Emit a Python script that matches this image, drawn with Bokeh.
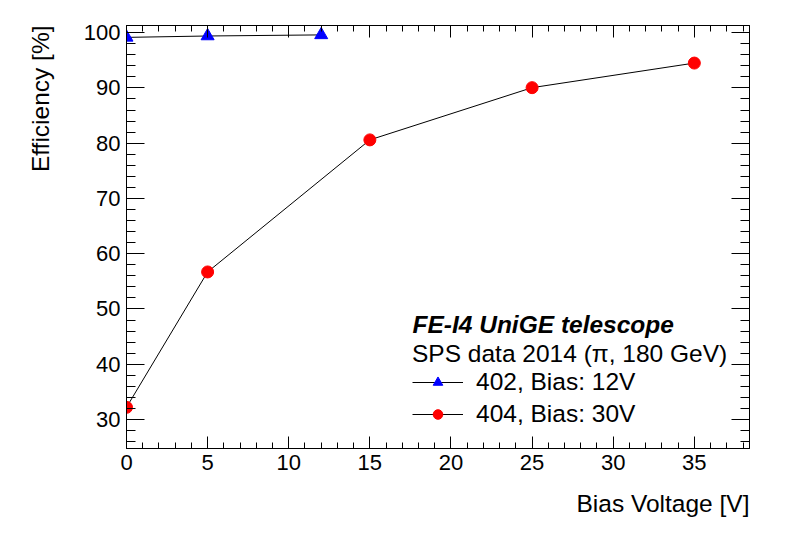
from bokeh.plotting import figure
from bokeh.models import (Range1d, LinearAxis, SingleIntervalTicker, Label,
                          Legend, LegendItem, Title, CustomJSTickFormatter)
from bokeh.embed import file_html
from bokeh.resources import INLINE

# ---- data ----
bias_402 = [0, 5, 12]
eff_402 = [99.15, 99.4, 99.6]
label_402 = "402, Bias: 12V"

bias_404 = [0, 5, 15, 25, 35]
eff_404 = [32.2, 56.7, 80.6, 90.05, 94.5]
label_404 = "404, Bias: 30V"

header_text = "FE-I4 UniGE telescope"
legend_title = "SPS data 2014 (\u03c0, 180 GeV)"
x_title = "Bias Voltage [V]"
y_title = "Efficiency [%]"

FONT = "Liberation Sans"
TXT = "24.5px"

p = figure(width=773, height=534, output_backend="svg", toolbar_location=None,
           x_range=Range1d(0, 38.4), y_range=Range1d(24.75, 101.3),
           min_border_left=126, min_border_right=24, min_border_top=25,
           min_border_bottom=86, x_axis_location=None, y_axis_location=None)
p.xgrid.visible = False
p.ygrid.visible = False
p.outline_line_color = "black"
p.outline_line_width = 1
p.background_fill_color = "white"
p.border_fill_color = "white"

def make_axis(ticker, labels, maj, mnr):
    ax = LinearAxis(ticker=ticker)
    ax.axis_line_color = "black"
    ax.axis_line_width = 1
    ax.major_tick_line_color = "black"
    ax.minor_tick_line_color = "black"
    ax.major_tick_in = maj
    ax.major_tick_out = 0
    ax.minor_tick_in = mnr
    ax.minor_tick_out = 0
    if labels:
        ax.major_label_text_font = FONT
        ax.major_label_text_font_size = "22px"
        ax.major_label_text_color = "black"
        ax.major_label_standoff = 6
    else:
        ax.formatter = CustomJSTickFormatter(code="return ''")
        ax.major_label_standoff = 0
    return ax

xt = SingleIntervalTicker(interval=5, num_minor_ticks=5)
yt = SingleIntervalTicker(interval=10, num_minor_ticks=5)
p.add_layout(make_axis(xt, True, 12, 6), "below")
p.add_layout(make_axis(xt, False, 12, 6), "above")
p.add_layout(make_axis(yt, True, 18, 9), "left")
p.add_layout(make_axis(yt, False, 18, 9), "right")

l402 = p.line(bias_402, eff_402, line_color="black", line_width=1)
m402 = p.scatter(bias_402, eff_402, marker="triangle", size=13,
                 fill_color="blue", line_color="blue")
l404 = p.line(bias_404, eff_404, line_color="black", line_width=1)
m404 = p.scatter(bias_404, eff_404, marker="circle", size=12,
                 fill_color="red", line_color="red")

legend = Legend(items=[LegendItem(label=label_402, renderers=[l402, m402]),
                       LegendItem(label=label_404, renderers=[l404, m404])],
                location=(286, 20), title=legend_title,
                title_text_font=FONT, title_text_font_size=TXT,
                title_text_font_style="normal", title_text_color="black",
                title_standoff=0,
                label_text_font=FONT, label_text_font_size=TXT,
                label_text_color="black", label_standoff=13,
                glyph_width=51, glyph_height=24, label_height=24,
                spacing=4, padding=0, margin=0,
                border_line_alpha=0, background_fill_alpha=0)
p.add_layout(legend, "center")

p.add_layout(Label(x=286, y=124, x_units="screen", y_units="screen",
                   text=header_text, text_font=FONT, text_font_size=TXT,
                   text_font_style="bold italic", text_color="black",
                   text_baseline="alphabetic"))

xt_title = Title(text=x_title, align="right", vertical_align="bottom",
                 text_font=FONT, text_font_size=TXT, text_font_style="normal",
                 text_color="black", standoff=31)
p.add_layout(xt_title, "below")
yt_title = Title(text=y_title, align="right", vertical_align="top",
                 text_font=FONT, text_font_size=TXT, text_font_style="normal",
                 text_color="black", standoff=50)
p.add_layout(yt_title, "left")

open("out.html", "w").write(file_html(p, INLINE))
